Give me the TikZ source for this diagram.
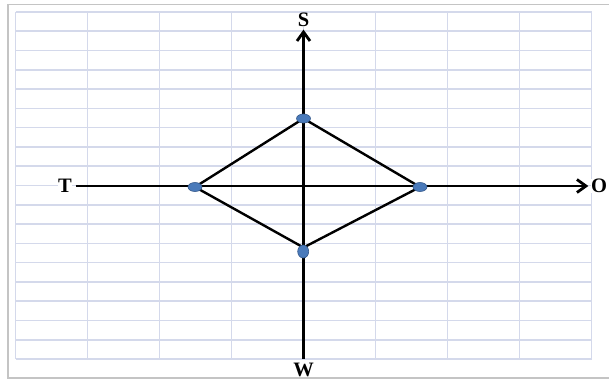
\documentclass[tikz,border=0pt]{standalone}
\usepackage{fontspec}
\setmainfont{Liberation Serif}
\usepackage{xcolor}
\definecolor{gridBlue}{RGB}{212,217,235}
\definecolor{frameGray}{RGB}{196,196,196}
\definecolor{dotBlue}{RGB}{74,122,186}
\definecolor{dotEdge}{RGB}{52,88,138}
\usepackage{tikz}
\usetikzlibrary{
  arrows.meta,
  positioning,
  shapes.geometric
}
\newcommand{\axisfont}{\fontsize{20.5}{22}\selectfont\bfseries}
\tikzset{
  gridline/.style={
    draw=gridBlue,
    line width=1.6pt
  },
  frameline/.style={
    draw=frameGray,
    line width=1.2pt
  },
  axisarrow/.style={
    -{Straight Barb[length=9pt, width=13pt]},
    line width=2.8pt,
    black
  },
  rhombline/.style={
    line width=2.4pt,
    black,
    line join=round
  },
  axislabel/.style={
    font=\axisfont,
    fill=white,
    inner sep=0.5pt
  },
  vdot/.style={
    ellipse,
    draw=dotEdge,
    fill=dotBlue,
    line width=0.6pt,
    minimum width=14pt,
    minimum height=9pt,
    inner sep=0pt
  }
}

\begin{document}
\begin{tikzpicture}[x=1pt, y=-1pt]
  \useasboundingbox (0,0) rectangle (609,381);
  % sheet frame and grid
  \draw[frameline] (8,4.5) rectangle (615,378);
  \foreach \i in {0,...,8}
    \draw[gridline] (15.5+72*\i,12) -- (15.5+72*\i,359);
  \foreach \j in {0,...,18}
    \draw[gridline] (15.5,12+19.28*\j) -- (591.5,12+19.28*\j);

  % axes
  \node[axislabel] (T) at (65,186) {T};
  \node[axislabel] (O) at (599,186) {O};
  \node[axislabel] (S) at (303.5,20) {S};
  \node[axislabel] (W) at (303.5,369.5) {W};
  \draw[axisarrow, shorten <=3pt, shorten >=2pt] (T) -- (O);
  \draw[axisarrow, shorten <=3pt, shorten >=2pt] (W) -- (S);

  % rhombus
  \coordinate (vtop) at (303.5,118.5);
  \coordinate (vright) at (420,187);
  \coordinate (vbottom) at (303.5,247.5);
  \coordinate (vleft) at (195,187);
  \draw[rhombline] (vtop) -- (vright) -- (vbottom) -- (vleft) -- cycle;
  \node[vdot] (dtop) at (vtop) {};
  \node[vdot] (dright) at (vright) {};
  \node[vdot] (dleft) at (vleft) {};
  \node[vdot, minimum width=11pt, minimum height=13pt] (dbottom) at (303.2,251.5) {};
\end{tikzpicture}
\end{document}
